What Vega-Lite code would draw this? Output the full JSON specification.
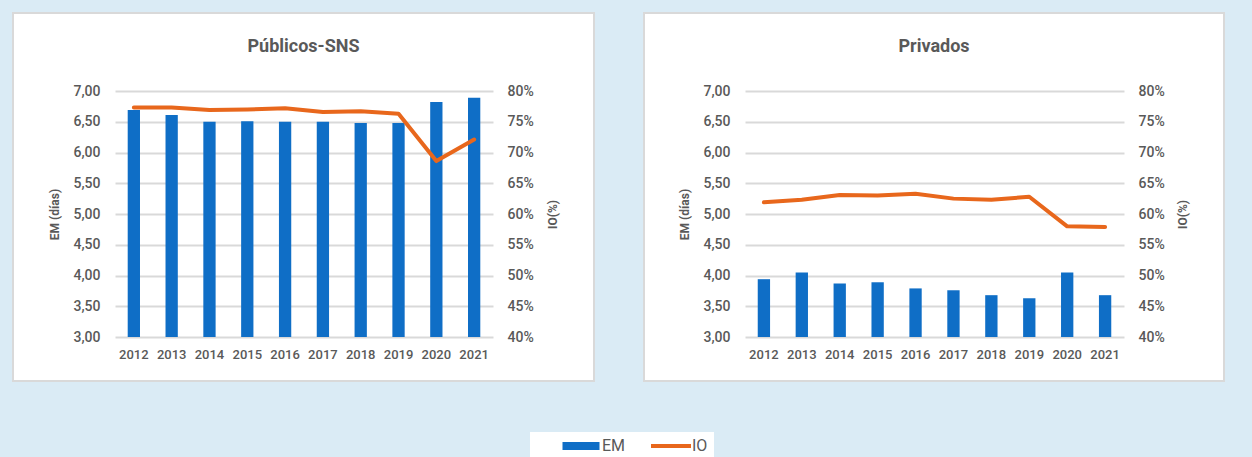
{
  "$schema": "https://vega.github.io/schema/vega-lite/v6.json",
  "background": "#DAEBF5",
  "padding": {"left": 12, "top": 12, "right": 29, "bottom": 0},
  "bounds": "flush",
  "spacing": 50,
  "datasets": {
    "publicos": [
      {"year": "2012", "EM": 6.69, "IO": 77.3},
      {"year": "2013", "EM": 6.61, "IO": 77.3},
      {"year": "2014", "EM": 6.50, "IO": 76.9},
      {"year": "2015", "EM": 6.51, "IO": 77.0},
      {"year": "2016", "EM": 6.50, "IO": 77.2},
      {"year": "2017", "EM": 6.50, "IO": 76.6},
      {"year": "2018", "EM": 6.48, "IO": 76.7},
      {"year": "2019", "EM": 6.48, "IO": 76.3},
      {"year": "2020", "EM": 6.82, "IO": 68.6},
      {"year": "2021", "EM": 6.89, "IO": 72.1}
    ],
    "privados": [
      {"year": "2012", "EM": 3.94, "IO": 61.9},
      {"year": "2013", "EM": 4.05, "IO": 62.3},
      {"year": "2014", "EM": 3.87, "IO": 63.1},
      {"year": "2015", "EM": 3.89, "IO": 63.0},
      {"year": "2016", "EM": 3.79, "IO": 63.3},
      {"year": "2017", "EM": 3.76, "IO": 62.5},
      {"year": "2018", "EM": 3.68, "IO": 62.3},
      {"year": "2019", "EM": 3.63, "IO": 62.8},
      {"year": "2020", "EM": 4.05, "IO": 58.0},
      {"year": "2021", "EM": 3.68, "IO": 57.9}
    ]
  },
  "hconcat": [
    {
      "width": 581,
      "height": 368,
      "title": {"text": "Públicos-SNS", "frame": "group", "offset": -52, "baseline": "middle"},
      "data": {"name": "publicos"},
      "resolve": {"scale": {"y": "independent"}, "axis": {"y": "independent"}},
      "layer": [
        {
          "mark": {"type": "bar", "color": "#0F6EC6"},
          "encoding": {
            "x": {"field": "year", "type": "nominal", "sort": null,
                  "scale": {"range": [102, 480], "paddingInner": 0.675, "paddingOuter": 0.336},
                  "axis": {"orient": "bottom", "offset": -44, "title": null, "labelAngle": 0, "labelPadding": 11, "domain": false, "ticks": false, "tickSize": 0, "grid": false}},
            "y": {"field": "EM", "type": "quantitative",
                  "scale": {"domain": [3, 7], "range": [324, 78], "nice": false, "zero": false},
                  "axis": {"orient": "left", "offset": -102, "title": "EM (días)", "values": [3, 3.5, 4, 4.5, 5, 5.5, 6, 6.5, 7],
                           "labelExpr": "replace(format(datum.value, '.2f'), '.', ',')", "labelPadding": 15, "titlePadding": 11,
                           "domain": false, "ticks": false, "tickSize": 0, "grid": true}},
            "y2": {"datum": 3},
            "color": {"datum": "EM", "scale": {"domain": ["EM", "IO"], "range": ["#0F6EC6", "#E8671C"]},
                      "legend": {"encode": {"symbols": {"update": {
                        "shape": {"signal": "datum.value === 'EM' ? 'M-3.7,-0.8H3.7V0.8H-3.7Z' : 'M-4,-0.4H4V0.4H-4Z'"},
                        "fill": {"signal": "datum.value === 'EM' ? '#0F6EC6' : '#E8671C'"},
                        "stroke": {"value": "transparent"},
                        "strokeWidth": {"value": 0},
                        "opacity": {"value": 1}
                      }}}}}
          }
        },
        {
          "mark": {"type": "line", "color": "#E8671C", "strokeWidth": 4, "strokeCap": "round", "strokeJoin": "round"},
          "encoding": {
            "x": {"field": "year", "type": "nominal", "sort": null},
            "y": {"field": "IO", "type": "quantitative",
                  "scale": {"domain": [40, 80], "range": [324, 78], "nice": false, "zero": false},
                  "axis": {"orient": "right", "offset": -101, "title": "IO(%)", "titleAngle": 270, "values": [40, 45, 50, 55, 60, 65, 70, 75, 80],
                           "labelExpr": "format(datum.value, 'd') + '%'", "labelPadding": 14, "titlePadding": 26,
                           "domain": false, "ticks": false, "tickSize": 0, "grid": false}},
            "color": {"datum": "IO"}
          }
        }
      ]
    },
    {
      "width": 580,
      "height": 368,
      "title": {"text": "Privados", "frame": "group", "offset": -52, "baseline": "middle"},
      "data": {"name": "privados"},
      "resolve": {"scale": {"y": "independent"}, "axis": {"y": "independent"}},
      "layer": [
        {
          "mark": {"type": "bar", "color": "#0F6EC6"},
          "encoding": {
            "x": {"field": "year", "type": "nominal", "sort": null,
                  "scale": {"range": [101, 480], "paddingInner": 0.675, "paddingOuter": 0.336},
                  "axis": {"orient": "bottom", "offset": -44, "title": null, "labelAngle": 0, "labelPadding": 11, "domain": false, "ticks": false, "tickSize": 0, "grid": false}},
            "y": {"field": "EM", "type": "quantitative",
                  "scale": {"domain": [3, 7], "range": [324, 78], "nice": false, "zero": false},
                  "axis": {"orient": "left", "offset": -101, "title": "EM (días)", "values": [3, 3.5, 4, 4.5, 5, 5.5, 6, 6.5, 7],
                           "labelExpr": "replace(format(datum.value, '.2f'), '.', ',')", "labelPadding": 15, "titlePadding": 11,
                           "domain": false, "ticks": false, "tickSize": 0, "grid": true}},
            "y2": {"datum": 3},
            "color": {"datum": "EM"}
          }
        },
        {
          "mark": {"type": "line", "color": "#E8671C", "strokeWidth": 4, "strokeCap": "round", "strokeJoin": "round"},
          "encoding": {
            "x": {"field": "year", "type": "nominal", "sort": null},
            "y": {"field": "IO", "type": "quantitative",
                  "scale": {"domain": [40, 80], "range": [324, 78], "nice": false, "zero": false},
                  "axis": {"orient": "right", "offset": -100, "title": "IO(%)", "titleAngle": 270, "values": [40, 45, 50, 55, 60, 65, 70, 75, 80],
                           "labelExpr": "format(datum.value, 'd') + '%'", "labelPadding": 14, "titlePadding": 25,
                           "domain": false, "ticks": false, "tickSize": 0, "grid": false}},
            "color": {"datum": "IO"}
          }
        }
      ]
    }
  ],
  "config": {
    "font": "Roboto",
    "view": {"fill": "white", "stroke": "#D9D9D9", "strokeWidth": 2},
    "title": {"font": "Roboto", "fontSize": 18, "fontWeight": "bold", "color": "#595959", "anchor": "middle"},
    "axis": {
      "labelFont": "Roboto", "labelFontSize": 14, "labelFontWeight": 500, "labelColor": "#595959",
      "titleFont": "Roboto", "titleFontSize": 12, "titleFontWeight": "bold", "titleColor": "#595959",
      "gridColor": "#D9D9D9", "gridWidth": 2
    },
    "axisX": {"labelFontSize": 13},
    "legend": {
      "orient": "none", "legendX": 517, "legendY": 419, "direction": "horizontal", "columns": 2,
      "fillColor": "white", "padding": 6, "title": null,
      "labelFont": "Roboto", "labelFontSize": 16, "labelColor": "#595959", "labelOffset": 13,
      "symbolSize": 100, "symbolOffset": 37, "columnPadding": -13
    }
  },
  "resolve": {"legend": {"color": "shared"}}
}
